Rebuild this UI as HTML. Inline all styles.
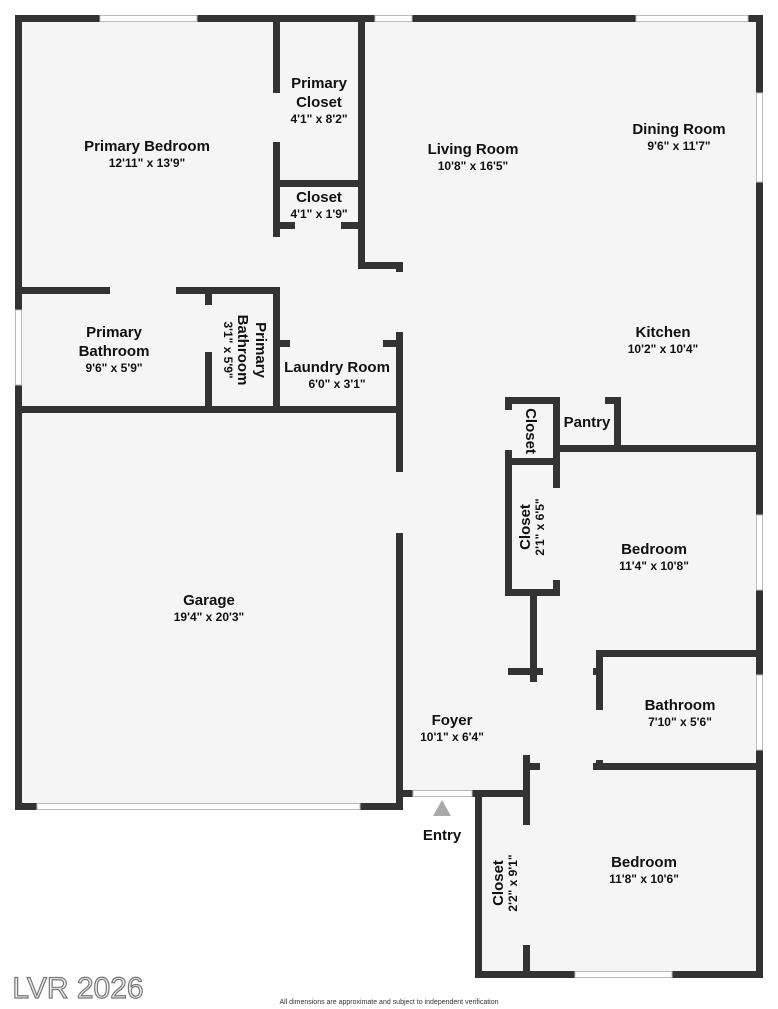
<!DOCTYPE html>
<html><head><meta charset="utf-8"><style>
html,body{margin:0;padding:0;background:#fff;}
svg{display:block;}
text{font-family:"Liberation Sans",sans-serif;fill:#111;text-anchor:middle;}
.n{font-size:15px;font-weight:bold;}
.d{font-size:12px;font-weight:bold;}
</style></head><body>
<svg width="778" height="1009" viewBox="0 0 778 1009" xmlns="http://www.w3.org/2000/svg">
<g fill="#f5f5f5">
<rect x="15" y="15" width="748" height="398"/>
<rect x="15" y="406" width="388" height="404"/>
<rect x="396" y="406" width="367" height="391"/>
<rect x="475" y="760" width="288" height="218"/>
</g>
<g fill="#333">
<rect x="15" y="15" width="85" height="7"/>
<rect x="197" y="15" width="178" height="7"/>
<rect x="412" y="15" width="224" height="7"/>
<rect x="748" y="15" width="15" height="7"/>
<rect x="15" y="15" width="7" height="295"/>
<rect x="15" y="385" width="7" height="425"/>
<rect x="756" y="15" width="7" height="78"/>
<rect x="756" y="182" width="7" height="333"/>
<rect x="756" y="590" width="7" height="85"/>
<rect x="756" y="750" width="7" height="228"/>
<rect x="273" y="15" width="7" height="78"/>
<rect x="273" y="142" width="7" height="95"/>
<rect x="273" y="290" width="7" height="123"/>
<rect x="358" y="15" width="7" height="254"/>
<rect x="358" y="262" width="45" height="7"/>
<rect x="396" y="262" width="7" height="10"/>
<rect x="273" y="180" width="92" height="7"/>
<rect x="273" y="222" width="22" height="7"/>
<rect x="341" y="222" width="24" height="7"/>
<rect x="15" y="287" width="95" height="7"/>
<rect x="176" y="287" width="104" height="7"/>
<rect x="205" y="287" width="7" height="18"/>
<rect x="205" y="352" width="7" height="61"/>
<rect x="15" y="406" width="388" height="7"/>
<rect x="280" y="340" width="10" height="7"/>
<rect x="383" y="340" width="20" height="7"/>
<rect x="396" y="332" width="7" height="140"/>
<rect x="396" y="533" width="7" height="277"/>
<rect x="15" y="803" width="22" height="7"/>
<rect x="360" y="803" width="43" height="7"/>
<rect x="396" y="790" width="17" height="7"/>
<rect x="472" y="790" width="58" height="7"/>
<rect x="475" y="790" width="7" height="188"/>
<rect x="475" y="971" width="100" height="7"/>
<rect x="672" y="971" width="91" height="7"/>
<rect x="523" y="755" width="7" height="70"/>
<rect x="523" y="945" width="7" height="33"/>
<rect x="523" y="763" width="17" height="7"/>
<rect x="593" y="763" width="170" height="7"/>
<rect x="596" y="650" width="7" height="60"/>
<rect x="596" y="760" width="7" height="10"/>
<rect x="596" y="650" width="167" height="7"/>
<rect x="508" y="668" width="35" height="7"/>
<rect x="593" y="668" width="10" height="7"/>
<rect x="530" y="590" width="7" height="92"/>
<rect x="505" y="397" width="7" height="13"/>
<rect x="505" y="450" width="7" height="146"/>
<rect x="505" y="397" width="55" height="7"/>
<rect x="505" y="458" width="55" height="7"/>
<rect x="505" y="589" width="55" height="7"/>
<rect x="553" y="397" width="7" height="91"/>
<rect x="553" y="580" width="7" height="16"/>
<rect x="605" y="397" width="16" height="7"/>
<rect x="614" y="397" width="7" height="55"/>
<rect x="553" y="445" width="210" height="7"/>
</g>
<g fill="#fff" stroke="#bbb" stroke-width="1">
<rect x="100" y="15.5" width="97" height="6"/>
<rect x="375" y="15.5" width="37" height="6"/>
<rect x="636" y="15.5" width="112" height="6"/>
<rect x="756.5" y="93" width="6" height="89"/>
<rect x="756.5" y="515" width="6" height="75"/>
<rect x="756.5" y="675" width="6" height="75"/>
<rect x="15.5" y="310" width="6" height="75"/>
<rect x="575" y="971.5" width="97" height="6"/>
<rect x="37" y="803.5" width="323" height="6"/>
<rect x="413" y="790.5" width="59" height="6"/>
</g>
<polygon points="433,816 451,816 442,800" fill="#a8a8a8"/>
<text class="n" x="147" y="151">Primary Bedroom</text><text class="d" x="147" y="167">12'11" x 13'9"</text>
<text class="n" x="319" y="88">Primary</text><text class="n" x="319" y="107">Closet</text><text class="d" x="319" y="123">4'1" x 8'2"</text>
<text class="n" x="319" y="202">Closet</text><text class="d" x="319" y="218">4'1" x 1'9"</text>
<text class="n" x="473" y="154">Living Room</text><text class="d" x="473" y="170">10'8" x 16'5"</text>
<text class="n" x="679" y="134">Dining Room</text><text class="d" x="679" y="150">9'6" x 11'7"</text>
<text class="n" x="663" y="337">Kitchen</text><text class="d" x="663" y="353">10'2" x 10'4"</text>
<text class="n" x="114" y="337">Primary</text><text class="n" x="114" y="356">Bathroom</text><text class="d" x="114" y="372">9'6" x 5'9"</text>
<g transform="translate(242,350) rotate(90)"><text class="n" x="0" y="-14">Primary</text><text class="n" x="0" y="4">Bathroom</text><text class="d" x="0" y="18">3'1" x 5'9"</text></g>
<text class="n" x="337" y="372">Laundry Room</text><text class="d" x="337" y="388">6'0" x 3'1"</text>
<g transform="translate(531,431) rotate(90)"><text class="n" x="0" y="5">Closet</text></g>
<text class="n" x="587" y="427">Pantry</text>
<g transform="translate(530,527) rotate(-90)"><text class="n" x="0" y="0">Closet</text><text class="d" x="0" y="14">2'1" x 6'5"</text></g>
<text class="n" x="654" y="554">Bedroom</text><text class="d" x="654" y="570">11'4" x 10'8"</text>
<text class="n" x="209" y="605">Garage</text><text class="d" x="209" y="621">19'4" x 20'3"</text>
<text class="n" x="680" y="710">Bathroom</text><text class="d" x="680" y="726">7'10" x 5'6"</text>
<text class="n" x="452" y="725">Foyer</text><text class="d" x="452" y="741">10'1" x 6'4"</text>
<text class="n" x="442" y="840">Entry</text>
<g transform="translate(503,883) rotate(-90)"><text class="n" x="0" y="0">Closet</text><text class="d" x="0" y="14">2'2" x 9'1"</text></g>
<text class="n" x="644" y="867">Bedroom</text><text class="d" x="644" y="883">11'8" x 10'6"</text>
<text x="78" y="998" style="font-size:30px;fill:#eee;stroke:#777;stroke-width:1.2;font-weight:normal">LVR 2026</text>
<text x="389" y="1004" style="font-size:7px;fill:#333">All dimensions are approximate and subject to independent verification</text>
</svg>
</body></html>
